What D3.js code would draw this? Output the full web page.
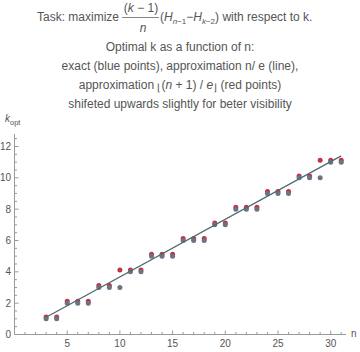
<!DOCTYPE html>
<html>
<head>
<meta charset="utf-8">
<script src="https://cdn.jsdelivr.net/npm/d3@7"></script>
<style>
  body { margin: 0; background: #fff; }
  text { font-family: "Liberation Sans", Arial, sans-serif; fill: #555; }
</style>
</head>
<body>
<svg id="chart" width="360" height="352"></svg>
<script>
// n values and optimal k
const nValues = [3, 4, 5, 6, 7, 8, 9, 10, 11, 12, 13, 14, 15, 16, 17, 18, 19, 20, 21, 22, 23, 24, 25, 26, 27, 28, 29, 30, 31]
const exactK = [1, 1, 2, 2, 2, 3, 3, 3, 4, 4, 5, 5, 5, 6, 6, 6, 7, 7, 8, 8, 8, 9, 9, 9, 10, 10, 10, 11, 11]
const approxK = [1, 1, 2, 2, 2, 3, 3, 4, 4, 4, 5, 5, 5, 6, 6, 6, 7, 7, 8, 8, 8, 9, 9, 9, 10, 10, 11, 11, 11]
const redShift = 0.12
const lineEnds = [3, 31]
const xTicks = [5, 10, 15, 20, 25, 30]
const yTicks = [0, 2, 4, 6, 8, 10, 12]

const svg = d3.select('#chart')

const x = d3.scaleLinear().domain([0, 31.5]).range([14.5, 346.5])
const y = d3.scaleLinear().domain([0, 12]).range([334.5, 146.5])

// title
const title = svg.append('g').style('font-size', '12px')
title.append('text').attr('x', 119).attr('y', 21).attr('text-anchor', 'end').text('Task: maximize')
title.append('text').attr('x', 141).attr('y', 12).attr('text-anchor', 'middle')
  .html('(<tspan font-style="italic">k</tspan> − 1)')
title.append('line').attr('x1', 122).attr('x2', 159).attr('y1', 17.5).attr('y2', 17.5)
  .attr('stroke', '#666').attr('stroke-width', 0.8)
title.append('text').attr('x', 143).attr('y', 32).attr('text-anchor', 'middle')
  .style('font-style', 'italic').text('n')
title.append('text').attr('x', 160).attr('y', 21)
  .html('(<tspan font-style="italic">H</tspan><tspan font-size="8" dy="3" font-style="italic">n</tspan><tspan font-size="8">−1</tspan><tspan dy="-3">−</tspan><tspan font-style="italic">H</tspan><tspan font-size="8" dy="3" font-style="italic">k</tspan><tspan font-size="8">−2</tspan><tspan dy="-3">) with respect to k.</tspan>')

const lines = [
  'Optimal k as a function of n:',
  'exact (blue points), approximation n/ e (line),',
  null,
  'shifeted upwards slightly for beter visibility'
]
lines.forEach((t, i) => {
  if (t) {
    title.append('text').attr('x', 180).attr('y', 51 + i * 19).attr('text-anchor', 'middle').text(t)
  }
})
title.append('text').attr('x', 180).attr('y', 89).attr('text-anchor', 'middle')
  .html('approximation <tspan font-size="10" dy="2">⌊</tspan><tspan dy="-2">(</tspan><tspan font-style="italic">n</tspan> + 1) / <tspan font-style="italic">e</tspan><tspan font-size="10" dy="2">⌋</tspan><tspan dy="-2"> (red points)</tspan>')

// axes
const axisColor = '#999'
const g = svg.append('g')

g.append('line').attr('x1', x(0)).attr('x2', 346).attr('y1', y(0)).attr('y2', y(0)).attr('stroke', axisColor)
g.append('line').attr('x1', x(0)).attr('x2', x(0)).attr('y1', y(0)).attr('y2', 134).attr('stroke', axisColor)

const xMinor = d3.range(1, 32)
g.selectAll('line.xtick').data(xMinor).enter().append('line')
  .attr('class', 'xtick')
  .attr('x1', d => x(d)).attr('x2', d => x(d))
  .attr('y1', y(0)).attr('y2', d => y(0) - (d % 5 === 0 ? 4 : 2.5))
  .attr('stroke', axisColor)

const yMinor = d3.range(0.5, 12.8, 0.5)
g.selectAll('line.ytick').data(yMinor).enter().append('line')
  .attr('class', 'ytick')
  .attr('y1', d => y(d)).attr('y2', d => y(d))
  .attr('x1', x(0)).attr('x2', d => x(0) + (d % 2 === 0 ? 4 : 2.5))
  .attr('stroke', axisColor)

g.selectAll('text.xlab').data(xTicks).enter().append('text')
  .attr('class', 'xlab')
  .attr('x', d => x(d)).attr('y', 347).attr('text-anchor', 'middle')
  .style('font-size', '10px').text(d => d)

g.selectAll('text.ylab').data(yTicks).enter().append('text')
  .attr('class', 'ylab')
  .attr('x', 11).attr('y', d => y(d) + 3.5).attr('text-anchor', 'end')
  .style('font-size', '10px').text(d => d)

g.append('text').attr('x', 351).attr('y', 337).style('font-size', '10px').text('n')
g.append('text').attr('x', 5).attr('y', 122).style('font-size', '10px')
  .html('<tspan font-style="italic">k</tspan><tspan font-size="7.5" dy="3">opt</tspan>')

// red points (shifted upward)
g.selectAll('circle.red').data(nValues).enter().append('circle')
  .attr('class', 'red')
  .attr('cx', d => x(d)).attr('cy', (d, i) => y(approxK[i] + redShift))
  .attr('r', 2.5).attr('fill', '#c33347')

// blue points
g.selectAll('circle.blue').data(nValues).enter().append('circle')
  .attr('class', 'blue')
  .attr('cx', d => x(d)).attr('cy', (d, i) => y(exactK[i]))
  .attr('r', 2.5).attr('fill', '#6b7480')

// n/e line
g.append('path')
  .datum(lineEnds)
  .attr('d', d3.line().x(d => x(d)).y(d => y(d / Math.E)))
  .attr('stroke', '#4b6b73').attr('stroke-width', 1.3).attr('fill', 'none')
</script>
</body>
</html>
